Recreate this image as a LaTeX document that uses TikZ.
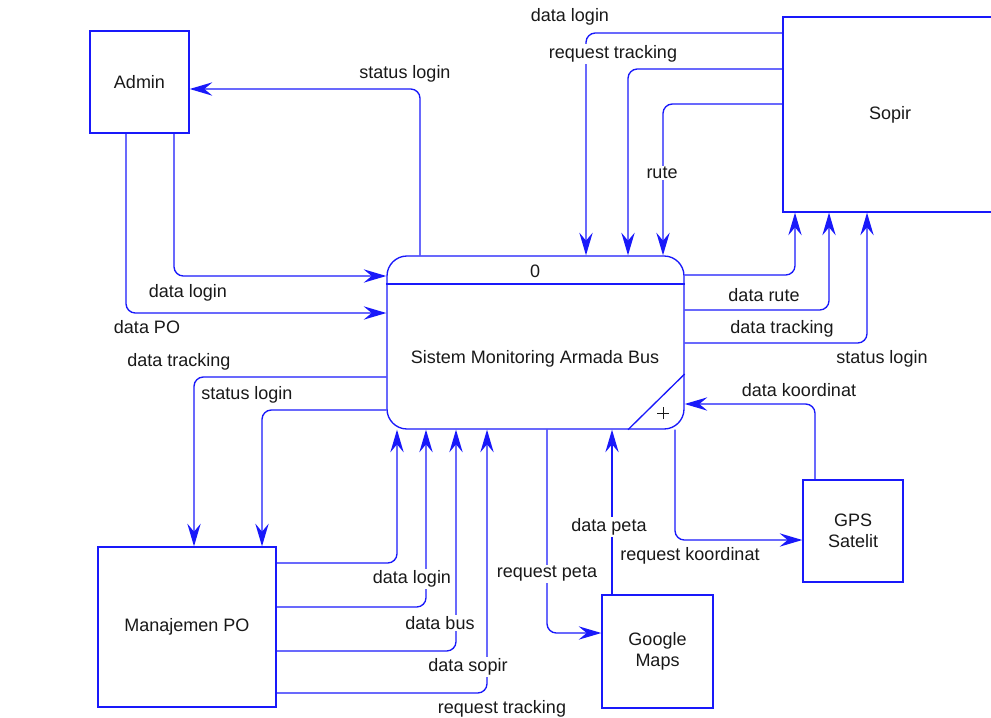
\documentclass[tikz,border=0pt]{standalone}
\usepackage{fontspec}
\setmainfont{Liberation Sans}
\usepackage{tikz}
\usetikzlibrary{arrows.meta,positioning,calc}
\definecolor{dfdblue}{RGB}{25,25,250}

\begin{document}
\begin{tikzpicture}[x=0.75pt, y=-0.75pt,
  every node/.style={font=\fontsize{13.5}{16}\selectfont, text=black!90},
  entity/.style={draw=dfdblue, line width=1pt, fill=white, inner sep=0pt, align=center},
  flow/.style={draw=dfdblue, line width=1pt, rounded corners=7pt,
    -{Stealth[length=17pt,width=10pt,inset=6pt]}},
  lbl/.style={fill=white, inner sep=1pt}]
\useasboundingbox (0,0) rectangle (991,717);

% external entities
\node[entity, minimum width=74.25pt, minimum height=76.5pt] (admin) at (139.5,82) {Admin};
\node[entity, minimum width=160.5pt, minimum height=146.25pt] (sopir) at (890,114.5) {Sopir};
\node[entity, minimum width=133.5pt, minimum height=120pt] (manpo) at (187,627) {Manajemen PO};
\node[entity, minimum width=83.25pt, minimum height=84.75pt] (gmaps) at (657.5,651.5) {Google\\Maps};
\node[entity, minimum width=75pt, minimum height=76.5pt] (gps) at (853,531) {GPS\\Satelit};

% process
\node[entity, rounded corners=15pt, minimum width=222.75pt, minimum height=129.75pt] (proc) at (535.5,342.5) {};
\draw[dfdblue, line width=1pt] (proc.west |- 0,284) -- (proc.east |- 0,284);
\draw[dfdblue, line width=1pt] (proc.east |- 0,374) -- (proc.south -| 628,0);
\node (procid) at (535,271) {0};
\node (procname) at (535,359) {Sistem Monitoring Armada Bus};
\draw[black!90, line width=0.6pt] (657,413) -- (669,413) (663,407) -- (663,419);

% Admin
\draw[flow] (proc.north -| 420,0) |- (admin.east |- 0,89);
\draw[flow] (admin.south -| 174,0) |- (proc.west |- 0,276);
\draw[flow] (admin.south -| 126,0) |- (proc.west |- 0,313);

% Sopir
\draw[flow] (sopir.west |- 0,33) -| (proc.north -| 586,0);
\draw[flow] (sopir.west |- 0,69) -| (proc.north -| 628,0);
\draw[flow] (sopir.west |- 0,104) -| (proc.north -| 663,0);
\draw[flow] (proc.east |- 0,275) -| (sopir.south -| 795,0);
\draw[flow] (proc.east |- 0,310) -| (sopir.south -| 829,0);
\draw[flow] (proc.east |- 0,343) -| (sopir.south -| 867,0);

% Manajemen PO
\draw[flow] (proc.west |- 0,377) -| (manpo.north -| 194,0);
\draw[flow] (proc.west |- 0,410) -| (manpo.north -| 262,0);
\foreach \y/\x in {563/397, 607/426, 651/456, 693/487}
  \draw[flow] (manpo.east |- 0,\y) -| (proc.south -| \x,0);

% Google Maps and GPS
\draw[flow] (proc.south -| 547,0) |- (gmaps.west |- 0,633);
\draw[flow] (gmaps.north -| 612,0) -- (proc.south -| 612,0);
\draw[flow] (gps.north -| 815,0) |- (proc.east |- 0,404);
\draw[flow] (proc.south -| 675,0) |- (gps.west |- 0,540);

% flow labels
\foreach \x/\y/\txt [count=\i] in {
  405/74/status login, 188/293/data login, 147/327/data PO,
  570/17/data login, 613/54/request tracking, 662/173/rute,
  764/295/data rute, 782/329/data tracking, 882/359/status login,
  179/362/data tracking, 247/395/status login,
  412/579/data login, 440/623/data bus, 468/667/data sopir, 502/709/request tracking,
  547/574/request peta, 609/527/data peta, 690/556/request koordinat, 799/390/data koordinat}
  \node[lbl] (lab\i) at (\x,\y) {\txt};
\end{tikzpicture}
\end{document}
